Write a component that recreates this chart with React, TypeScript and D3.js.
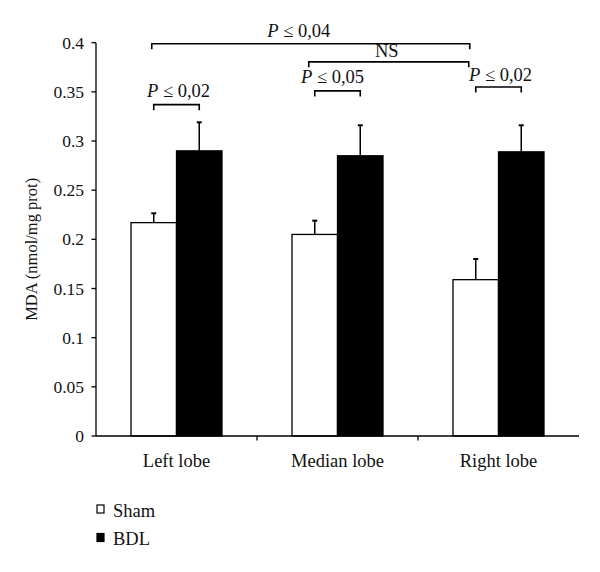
import React from "react";
import * as d3 from "d3";

const categories = ["Left lobe", "Median lobe", "Right lobe"];
const seriesNames = ["Sham", "BDL"];
const shamValues = [0.217, 0.205, 0.159];
const shamErrors = [0.0095, 0.014, 0.021];
const bdlValues = [0.29, 0.285, 0.289];
const bdlErrors = [0.029, 0.031, 0.027];
const yTicks = [0, 0.05, 0.1, 0.15, 0.2, 0.25, 0.3, 0.35, 0.4];
const yTickLabels = ["0", "0.05", "0.1", "0.15", "0.2", "0.25", "0.3", "0.35", "0.4"];
const yTitle = "MDA (nmol/mg prot)";

// significance annotations: from (category, series) to (category, series) at value level
const annFrom = [[0, 0], [1, 0], [1, 0], [2, 0], [0, 0]];
const annTo = [[2, 0], [2, 0], [1, 1], [2, 1], [0, 1]];
const annLevel = [0.399, 0.3805, 0.351, 0.355, 0.337];
const annP = [true, false, true, true, true];
const annText = ["0,04", "NS", "0,05", "0,02", "0,02"];

// layout tweaks for annotations (pixels)
const annDx1 = [-2, -6, 0, 0, 0];
const annDx2 = [-6, -7, 0, 0, 0];
const annTextDx = [-12, -2, -5, 2, 2];
const annTextDy = [-7, -5, -8, -6, -8];

const W = 600;
const H = 572;
const left = 96;
const right = 579;
const top = 42.7;
const bottom = 436;
const groupWidth = 91;

export default function App() {
  const y = d3.scaleLinear().domain([0, 0.4]).range([bottom, top]);
  const xCat = d3.scaleBand<number>().domain([0, 1, 2]).range([left, right]).padding(0);
  const groupOffset = (xCat.bandwidth() - groupWidth) / 2;
  const xSer = d3.scaleBand<number>().domain([0, 1]).range([0, groupWidth]).padding(0);
  const barX = (c: number, s: number) => (xCat(c) as number) + groupOffset + (xSer(s) as number);
  const barCx = (c: number, s: number) => barX(c, s) + xSer.bandwidth() / 2;

  const font = "'Liberation Serif', 'Times New Roman', serif";
  const series = [
    { vals: shamValues, errs: shamErrors, fill: "#fff" },
    { vals: bdlValues, errs: bdlErrors, fill: "#000" },
  ];

  return (
    <svg width={W} height={H} style={{ position: "absolute", left: 0, top: 0, background: "#fff" }} fontFamily={font}>
      <rect x={0} y={0} width={W} height={H} fill="#fff" />
      {/* bars */}
      {series.map((sr, s) =>
        sr.vals.map((v, c) => (
          <rect
            key={`b${s}-${c}`}
            x={barX(c, s)}
            y={y(v)}
            width={xSer.bandwidth()}
            height={bottom - y(v)}
            fill={sr.fill}
            stroke="#000"
            strokeWidth={1.3}
          />
        ))
      )}
      {/* error bars (upper only) */}
      {series.map((sr, s) =>
        sr.vals.map((v, c) => {
          const cx = barCx(c, s);
          const y1 = y(v);
          const y2 = y(v + sr.errs[c]);
          return (
            <g key={`e${s}-${c}`} stroke="#000" strokeWidth={1.5}>
              <line x1={cx} x2={cx} y1={y1} y2={y2} />
              <line x1={cx - 2.5} x2={cx + 2.5} y1={y2} y2={y2} strokeWidth={2} />
            </g>
          );
        })
      )}
      {/* y axis */}
      <line x1={left} x2={left} y1={y(0.4)} y2={bottom} stroke="#000" strokeWidth={1.3} />
      {yTicks.map((t, i) => (
        <g key={`yt${i}`}>
          <line x1={left - 4.5} x2={left} y1={y(t)} y2={y(t)} stroke="#000" strokeWidth={1.3} />
          <text x={left - 12} y={y(t)} dy="0.35em" textAnchor="end" fontSize={17.5} fill="#111">
            {yTickLabels[i]}
          </text>
        </g>
      ))}
      <text
        transform={`translate(${37},${(y(0) + y(0.4)) / 2 + 10}) rotate(-90)`}
        textAnchor="middle"
        fontSize={16.5}
        fill="#111"
      >
        {yTitle}
      </text>
      {/* x axis */}
      <line x1={left} x2={right} y1={bottom} y2={bottom} stroke="#000" strokeWidth={1.3} />
      {[1, 2].map((c) => (
        <line key={`xt${c}`} x1={xCat(c) as number} x2={xCat(c) as number} y1={bottom} y2={bottom + 4.5} stroke="#000" strokeWidth={1.3} />
      ))}
      {categories.map((name, c) => (
        <text key={`xl${c}`} x={(xCat(c) as number) + xCat.bandwidth() / 2} y={467} textAnchor="middle" fontSize={18.5} fill="#111">
          {name}
        </text>
      ))}
      {/* annotations */}
      {annText.map((txt, i) => {
        const x1 = barCx(annFrom[i][0], annFrom[i][1]) + annDx1[i];
        const x2 = barCx(annTo[i][0], annTo[i][1]) + annDx2[i];
        const yy = y(annLevel[i]);
        const cx = (x1 + x2) / 2 + annTextDx[i];
        return (
          <g key={`a${i}`}>
            <path d={`M${x1},${yy + 5.5}V${yy}H${x2}V${yy + 5.5}`} fill="none" stroke="#000" strokeWidth={1.6} />
            <text x={cx} y={yy + annTextDy[i]} textAnchor="middle" fontSize={18.5} fill="#111">
              {annP[i] ? (
                <>
                  <tspan fontStyle="italic">P</tspan>
                  <tspan>{` ≤ ${txt}`}</tspan>
                </>
              ) : (
                txt
              )}
            </text>
          </g>
        );
      })}
      {/* legend */}
      {seriesNames.map((name, s) => (
        <g key={`lg${s}`}>
          <rect x={97} y={505 + s * 28.5} width={7} height={8} fill={series[s].fill} stroke="#000" strokeWidth={1.2} />
          <text x={113} y={516.5 + s * 28.5} fontSize={18.5} fill="#111">
            {name}
          </text>
        </g>
      ))}
    </svg>
  );
}
